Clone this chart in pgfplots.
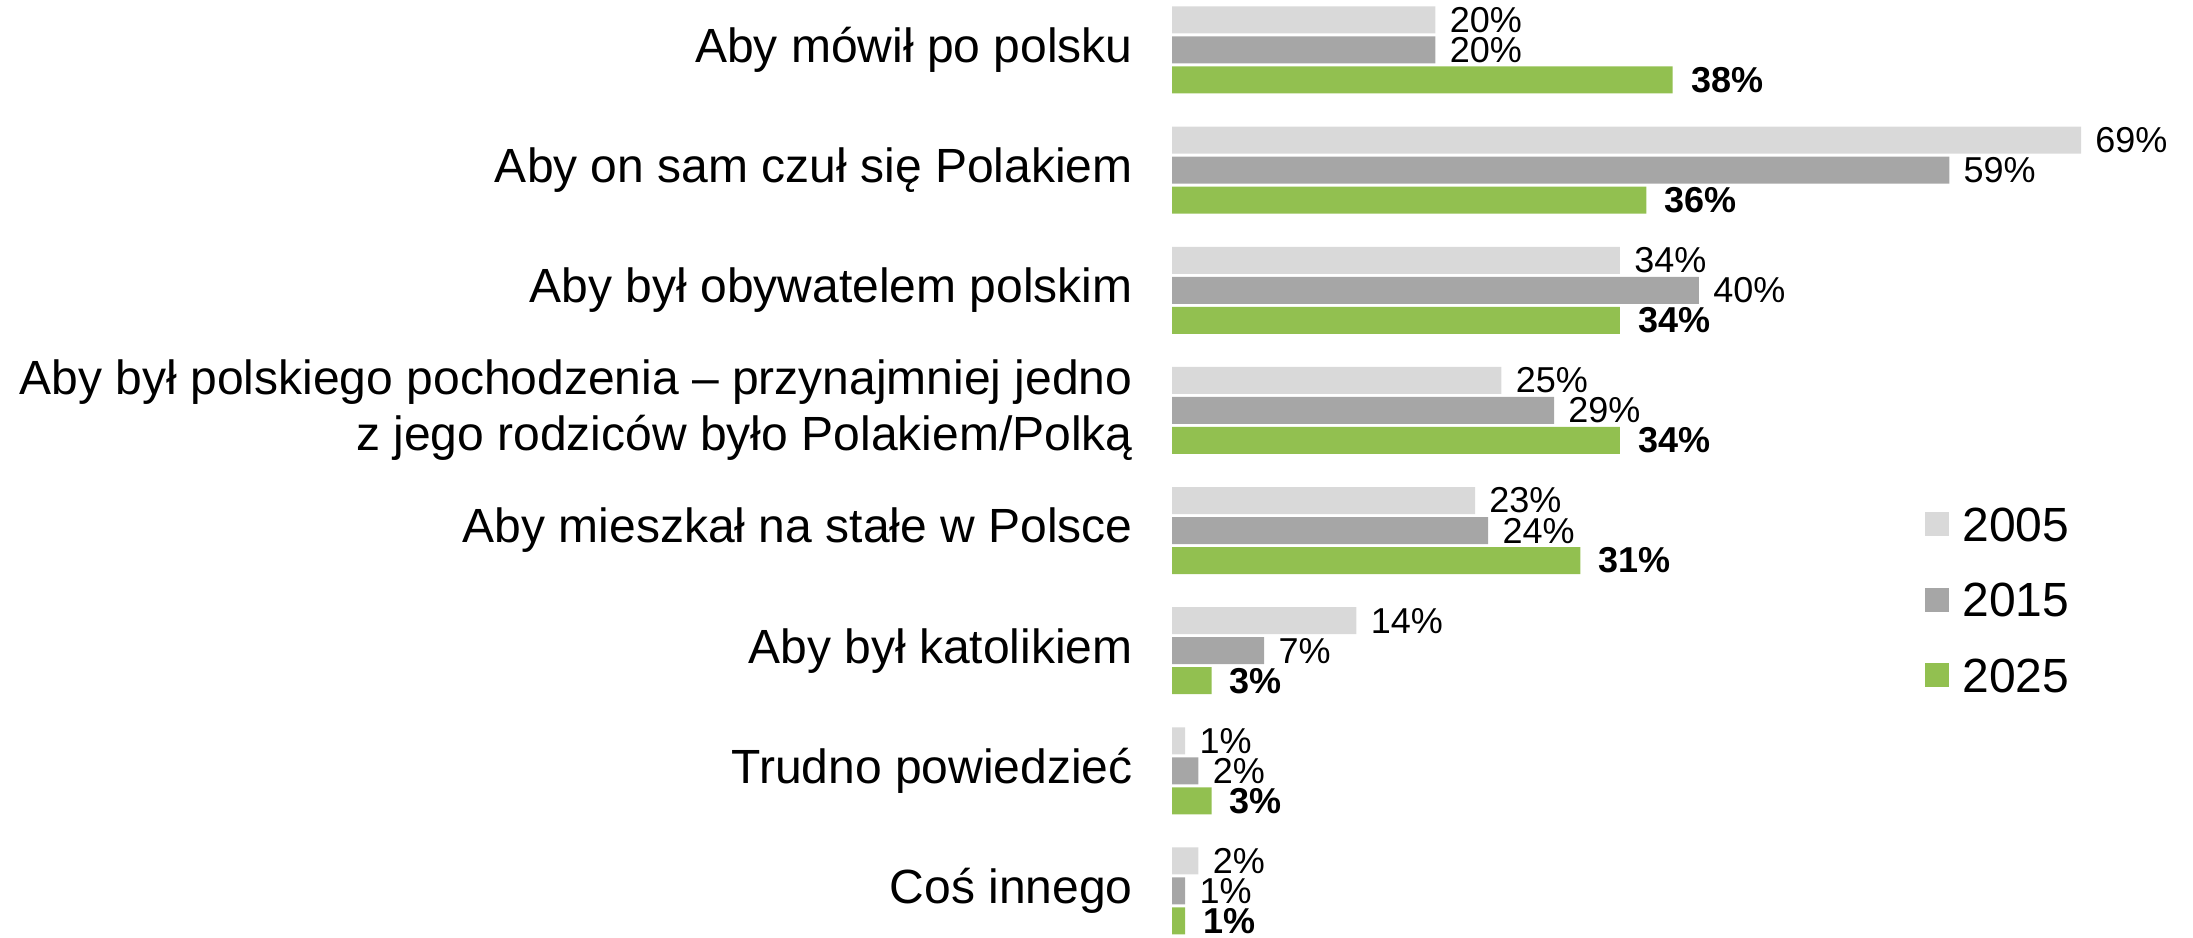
\documentclass[border=0pt]{standalone}
\usepackage{fontspec}
\setmainfont{Liberation Sans}
\usepackage{pgfplots}
\pgfplotsset{compat=1.18}
\definecolor{c05}{HTML}{D9D9D9}
\definecolor{c15}{HTML}{A6A6A6}
\definecolor{c25}{HTML}{92C050}
\begin{document}
\begin{tikzpicture}
\useasboundingbox (0,0) rectangle (1096.5pt,468.5pt);
\begin{axis}[
  at={(586pt,0pt)}, anchor=south west,
  scale only axis, width=510.5pt, height=468.5pt,
  xmin=0, xmax=77.5, ymin=-0.383, ymax=7.416,
  xbar, bar width=13.5pt,
  axis line style={draw=none}, major tick length=0pt,
  xtick=\empty, ytick={0,1,2,3,4,5,6,7},
  yticklabels={Coś innego, Trudno powiedzieć, Aby był katolikiem, Aby mieszkał na stałe w Polsce, {Aby był polskiego pochodzenia – przynajmniej jedno\\z jego rodziców było Polakiem/Polką}, Aby był obywatelem polskim, Aby on sam czuł się Polakiem, Aby mówił po polsku},
  yticklabel style={font=\fontsize{24}{28}\selectfont, align=right, anchor=east, inner sep=0pt, xshift=-19.5pt},
  clip=false,
  /pgf/number format/assume math mode=true,
  point meta=x,
  nodes near coords={\pgfmathprintnumber{\pgfplotspointmeta}\%},
  every node near coord/.append style={font=\fontsize{18}{20}\selectfont, anchor=west, inner sep=0pt, xshift=7pt},
  legend style={at={(0.7369,0.4589)}, anchor=north west, draw=none, fill=none, inner sep=0pt, row sep=20.75pt, column sep=6.8pt, nodes={inner sep=0pt, text height=17pt, text depth=0pt, font=\fontsize{24}{28}\selectfont}},
  legend cell align=left,
  legend image code/.code={\fill[#1] (0pt,-6pt) rectangle (12pt,6pt);},
]
\addplot[fill=c05, draw=none, bar shift=15pt] coordinates {(20,7) (69,6) (34,5) (25,4) (23,3) (14,2) (1,1) (2,0)};
\addplot[fill=c15, draw=none, bar shift=0pt] coordinates {(20,7) (59,6) (40,5) (29,4) (24,3) (7,2) (2,1) (1,0)};
\addplot[fill=c25, draw=none, bar shift=-15pt, every node near coord/.append style={font=\bfseries\fontsize{18}{20}\selectfont, xshift=2pt}] coordinates {(38,7) (36,6) (34,5) (34,4) (31,3) (3,2) (3,1) (1,0)};
\legend{2005,2015,2025}
\end{axis}
\end{tikzpicture}
\end{document}
